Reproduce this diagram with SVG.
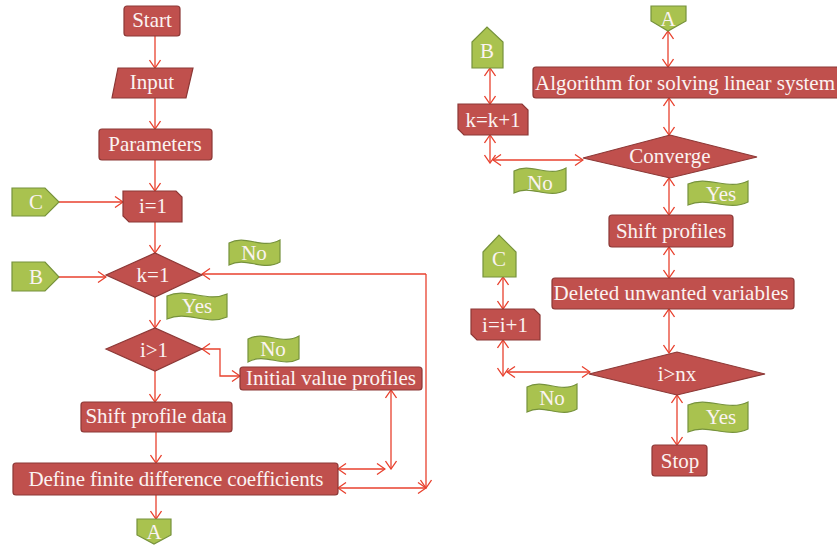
<svg xmlns="http://www.w3.org/2000/svg" width="837" height="548" viewBox="0 0 837 548">
<defs>
<style>
.n{fill:#C0504D;stroke:#8C3836;stroke-width:1.2}
.g{fill:#A9C24F;stroke:#76923C;stroke-width:1.2}
text{font-family:"Liberation Serif","Times New Roman",serif;font-size:21px;fill:#FBF3F2;text-anchor:middle}
.c path{fill:none;stroke:#E8412E;stroke-width:1.3}
</style>
<marker id="ah" viewBox="-9 -6 10 12" markerWidth="10" markerHeight="12" refX="0" refY="0" orient="auto-start-reverse" markerUnits="userSpaceOnUse">
<path d="M-8,-5.5 L0,0 L-8,5.5" fill="none" stroke="#E8412E" stroke-width="1.3"/>
</marker>
</defs>
<rect width="837" height="548" fill="#FFFFFF"/>

<g class="c">
<path d="M155,36 V68" marker-end="url(#ah)"/>
<path d="M155,98 V129" marker-end="url(#ah)"/>
<path d="M155,160 V191" marker-end="url(#ah)"/>
<path d="M59,202 H123" marker-end="url(#ah)"/>
<path d="M155,222 V253" marker-end="url(#ah)"/>
<path d="M59,277 H106" marker-end="url(#ah)"/>
<path d="M155,297 V328" marker-end="url(#ah)"/>
<path d="M426,274 H202" marker-end="url(#ah)"/>
<path d="M426,274 V488" marker-end="url(#ah)"/>
<path d="M338,488 H426" marker-start="url(#ah)" marker-end="url(#ah)"/>
<path d="M202,349 H220 V376 H240" marker-start="url(#ah)" marker-end="url(#ah)"/>
<path d="M155,371 V402" marker-end="url(#ah)"/>
<path d="M391,390 V469" marker-start="url(#ah)" marker-end="url(#ah)"/>
<path d="M338,469 H385" marker-start="url(#ah)" marker-end="url(#ah)"/>
<path d="M156,432 V463" marker-end="url(#ah)"/>
<path d="M156,495 V519" marker-end="url(#ah)"/>
<path d="M668,31 V67" marker-start="url(#ah)" marker-end="url(#ah)"/>
<path d="M669,98 V135" marker-start="url(#ah)" marker-end="url(#ah)"/>
<path d="M490,68 V104" marker-start="url(#ah)" marker-end="url(#ah)"/>
<path d="M490,135 V163" marker-start="url(#ah)" marker-end="url(#ah)"/>
<path d="M493,160 H583" marker-start="url(#ah)" marker-end="url(#ah)"/>
<path d="M669,178 V215" marker-start="url(#ah)" marker-end="url(#ah)"/>
<path d="M669,247 V278" marker-start="url(#ah)" marker-end="url(#ah)"/>
<path d="M669,309 V353" marker-start="url(#ah)" marker-end="url(#ah)"/>
<path d="M503,277 V309" marker-start="url(#ah)" marker-end="url(#ah)"/>
<path d="M503,340 V376" marker-start="url(#ah)" marker-end="url(#ah)"/>
<path d="M507,372 H590" marker-start="url(#ah)" marker-end="url(#ah)"/>
<path d="M677,395 V445" marker-start="url(#ah)" marker-end="url(#ah)"/>
</g>

<g id="start"><rect class="n" x="124" y="6" width="56" height="30" rx="3"/><text x="152" y="27">Start</text></g>
<g id="input"><polygon class="n" points="118,68 193,68 186,98 112,98"/><text x="152" y="89">Input</text></g>
<g id="parameters"><rect class="n" x="99" y="129" width="113" height="31" rx="3"/><text x="155" y="151">Parameters</text></g>
<g id="i1"><polygon class="n" points="123,191 176,191 182,197 182,222 129,222 123,216"/><text x="153" y="213">i=1</text></g>
<g id="connC1"><polygon class="g" points="12,188 45,188 59,202 45,216 12,216"/><text x="36" y="209">C</text></g>
<g id="k1"><polygon class="n" points="106,275 155,253 202,275 155,297"/><text x="153" y="282">k=1</text></g>
<g id="connB1"><polygon class="g" points="12,262 45,262 59,277 45,291 12,291"/><text x="36" y="284">B</text></g>
<g id="no1"><path class="g" d="M229,243 C246,234 262,250 280,240 L280,262 C263,272 246,256 229,265 Z"/><text x="254" y="260">No</text></g>
<g id="yes1"><path class="g" d="M167,296 C187,287 207,303 227,294 L227,317 C207,326 187,310 167,319 Z"/><text x="197" y="313">Yes</text></g>
<g id="igt1"><polygon class="n" points="106,349 155,328 202,349 155,371"/><text x="154" y="357">i&gt;1</text></g>
<g id="no2"><path class="g" d="M248,339 C265,330 282,346 299,336 L299,359 C282,368 265,352 248,362 Z"/><text x="273" y="356">No</text></g>
<g id="initial"><rect class="n" x="240" y="367" width="182" height="23" rx="3"/><text x="331" y="385" textLength="170">Initial value profiles</text></g>
<g id="shiftdata"><rect class="n" x="81" y="402" width="151" height="30" rx="3"/><text x="156" y="423" textLength="141">Shift profile data</text></g>
<g id="define"><rect class="n" x="13" y="463" width="325" height="32" rx="3"/><text x="176" y="486" textLength="295">Define finite difference coefficients</text></g>
<g id="connA1"><polygon class="g" points="137,519 171,519 171,535 154,544 137,535"/><text x="154" y="539">A</text></g>

<g id="connA2"><polygon class="g" points="651,6 686,6 686,21 668,31 651,21"/><text x="668" y="26">A</text></g>
<g id="algorithm"><rect class="n" x="533" y="67" width="306" height="31" rx="3"/><text x="685" y="90" textLength="300">Algorithm for solving linear system</text></g>
<g id="connB2"><polygon class="g" points="472,42 487,27 503,42 503,68 472,68"/><text x="487" y="58">B</text></g>
<g id="kk1"><polygon class="n" points="458,104 522,104 528,110 528,135 464,135 458,129"/><text x="493" y="127">k=k+1</text></g>
<g id="converge"><polygon class="n" points="583,158 670,135 757,157 670,178"/><text x="670" y="163">Converge</text></g>
<g id="no3"><path class="g" d="M514,171 C531,162 548,178 566,168 L566,190 C548,200 531,184 514,193 Z"/><text x="540" y="190">No</text></g>
<g id="yes2"><path class="g" d="M688,184 C708,175 728,191 748,181 L748,202 C728,212 708,196 688,205 Z"/><text x="721" y="201">Yes</text></g>
<g id="shiftprofiles"><rect class="n" x="609" y="215" width="124" height="32" rx="3"/><text x="671" y="238">Shift profiles</text></g>
<g id="connC2"><polygon class="g" points="483,252 499,235 516,252 516,277 483,277"/><text x="499" y="266">C</text></g>
<g id="deleted"><rect class="n" x="552" y="278" width="242" height="31" rx="3"/><text x="671" y="300" textLength="235">Deleted unwanted variables</text></g>
<g id="ii1"><polygon class="n" points="471,309 534,309 540,315 540,340 477,340 471,334"/><text x="505" y="332">i=i+1</text></g>
<g id="igtnx"><polygon class="n" points="589,374 677,352 765,374 677,395"/><text x="677" y="381">i&gt;nx</text></g>
<g id="no4"><path class="g" d="M527,387 C544,378 560,394 577,384 L577,409 C560,419 544,403 527,412 Z"/><text x="552" y="405">No</text></g>
<g id="yes3"><path class="g" d="M688,405 C708,396 728,412 748,402 L748,429 C728,439 708,423 688,432 Z"/><text x="721" y="424">Yes</text></g>
<g id="stop"><rect class="n" x="652" y="445" width="55" height="31" rx="3"/><text x="680" y="468">Stop</text></g>
</svg>
